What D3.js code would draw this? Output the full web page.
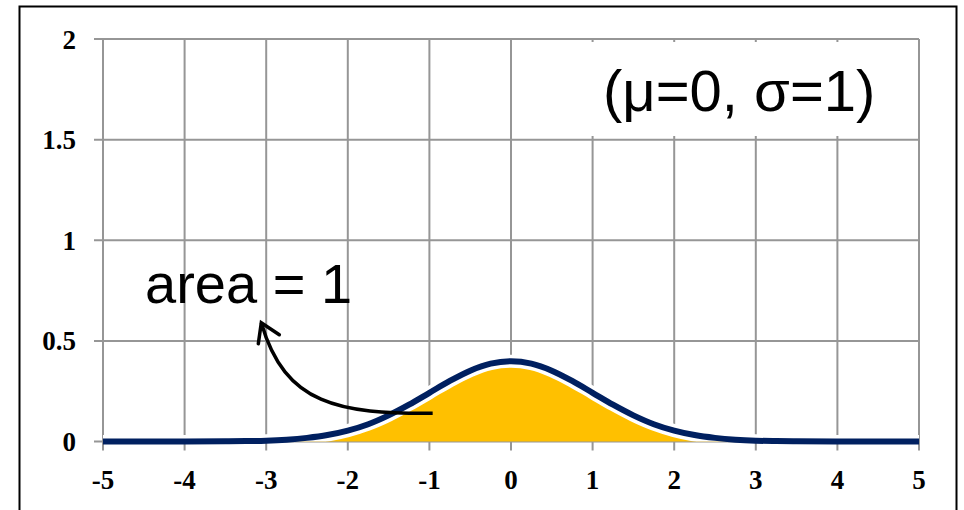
<!DOCTYPE html>
<html>
<head>
<meta charset="utf-8">
<title>Normal distribution</title>
<script src="https://d3js.org/d3.v7.min.js"></script>
<style>
  body { margin: 0; background: #fff; }
  .note { font-family: "Liberation Sans", Arial, sans-serif; fill: #000; }
</style>
</head>
<body>
<script>
// x positions and density (mu=0, sigma=1)
var xs = [-5, -4.5, -4, -3.5, -3.25, -3, -2.75, -2.5, -2.25, -2, -1.75, -1.5, -1.25, -1, -0.75, -0.5, -0.25,
          0, 0.25, 0.5, 0.75, 1, 1.25, 1.5, 1.75, 2, 2.25, 2.5, 2.75, 3, 3.25, 3.5, 4, 4.5, 5];
var density = [0, 0, 0, 0.001, 0.002, 0.004, 0.009, 0.018, 0.032, 0.054, 0.086, 0.130, 0.183, 0.242, 0.301, 0.352, 0.387,
               0.399, 0.387, 0.352, 0.301, 0.242, 0.183, 0.130, 0.086, 0.054, 0.032, 0.018, 0.009, 0.004, 0.002, 0.001, 0, 0, 0];
var xTicks = [-5, -4, -3, -2, -1, 0, 1, 2, 3, 4, 5];
var yTicks = [0, 0.5, 1, 1.5, 2];
var yTickLabels = ["0", "0.5", "1", "1.5", "2"];

var width = 964, height = 510;
var svg = d3.select("body").append("svg")
    .attr("width", width)
    .attr("height", height);

var x = d3.scaleLinear().domain([-5, 5]).range([103, 919]);
var y = d3.scaleLinear().domain([0, 2]).range([441.5, 39]);

// outer frame
svg.append("rect")
    .attr("x", 19.5).attr("y", 6.5)
    .attr("width", 937).attr("height", 600)
    .attr("fill", "none").attr("stroke", "#000").attr("stroke-width", 2);

// grid
var grid = svg.append("g").attr("stroke", "#969696").attr("stroke-width", 2);
grid.selectAll(".vx").data(xTicks).enter().append("line")
    .attr("x1", d => x(d)).attr("x2", d => x(d))
    .attr("y1", y(2)).attr("y2", y(0) + 9);
grid.selectAll(".hy").data(yTicks).enter().append("line")
    .attr("x1", x(-5) - 9).attr("x2", x(5))
    .attr("y1", d => y(d)).attr("y2", d => y(d));

// tick labels
var labelFont = "'Palatino Linotype', 'Book Antiqua', 'Liberation Serif', serif";
svg.selectAll(".xl").data(xTicks).enter().append("text")
    .attr("font-family", labelFont).attr("font-weight", "bold").attr("font-size", 27)
    .attr("x", d => x(d)).attr("y", 489)
    .attr("text-anchor", "middle")
    .text(d => d);
svg.selectAll(".yl").data(yTicks).enter().append("text")
    .attr("font-family", labelFont).attr("font-weight", "bold").attr("font-size", 27)
    .attr("x", 76).attr("y", d => y(d) + 9.5)
    .attr("text-anchor", "end")
    .text((d, i) => yTickLabels[i]);

var pts = xs.map((d, i) => [d, density[i]]);

// shaded area under the curve
var area = d3.area()
    .x(d => x(d[0])).y0(y(0)).y1(d => y(d[1]))
    .curve(d3.curveMonotoneX);
svg.append("path").datum(pts)
    .attr("d", area)
    .attr("fill", "#FFC000");

var line = d3.line()
    .x(d => x(d[0])).y(d => y(d[1]))
    .curve(d3.curveMonotoneX);

// white halo between fill and curve, kept above the baseline
svg.append("clipPath").attr("id", "above")
    .append("rect").attr("x", 0).attr("y", 0).attr("width", width).attr("height", y(0));
svg.append("path").datum(pts)
    .attr("d", line)
    .attr("clip-path", "url(#above)")
    .attr("fill", "none").attr("stroke", "#fff").attr("stroke-width", 13);

svg.append("path").datum(pts)
    .attr("d", line)
    .attr("fill", "none").attr("stroke", "#002060").attr("stroke-width", 6);

// parameter label with white box
svg.append("rect")
    .attr("x", 588).attr("y", 42).attr("width", 302).attr("height", 94)
    .attr("fill", "#fff");
svg.append("text").attr("class", "note")
    .attr("x", 603).attr("y", 111)
    .attr("font-size", 58)
    .text("(μ=0, σ=1)");

// area annotation and arrow
svg.append("text").attr("class", "note")
    .attr("x", 145).attr("y", 303)
    .attr("font-size", 56)
    .text("area = 1");

var p0 = [x(-0.96), y(0.14)], c1 = [x(-2.10), y(0.137)], c2 = [x(-2.77), y(0.18)], tip = [x(-3.06), y(0.59)];
svg.append("path")
    .attr("d", `M${p0}C${c1} ${c2} ${tip}`)
    .attr("fill", "none").attr("stroke", "#000").attr("stroke-width", 3.5);
svg.append("path")
    .attr("d", `M${tip[0] - 3},${tip[1] + 21}L${tip[0]},${tip[1]}L${tip[0] + 18},${tip[1] + 12}`)
    .attr("fill", "none").attr("stroke", "#000").attr("stroke-width", 3.5)
    .attr("stroke-linejoin", "miter").attr("stroke-linecap", "round");
</script>
</body>
</html>
